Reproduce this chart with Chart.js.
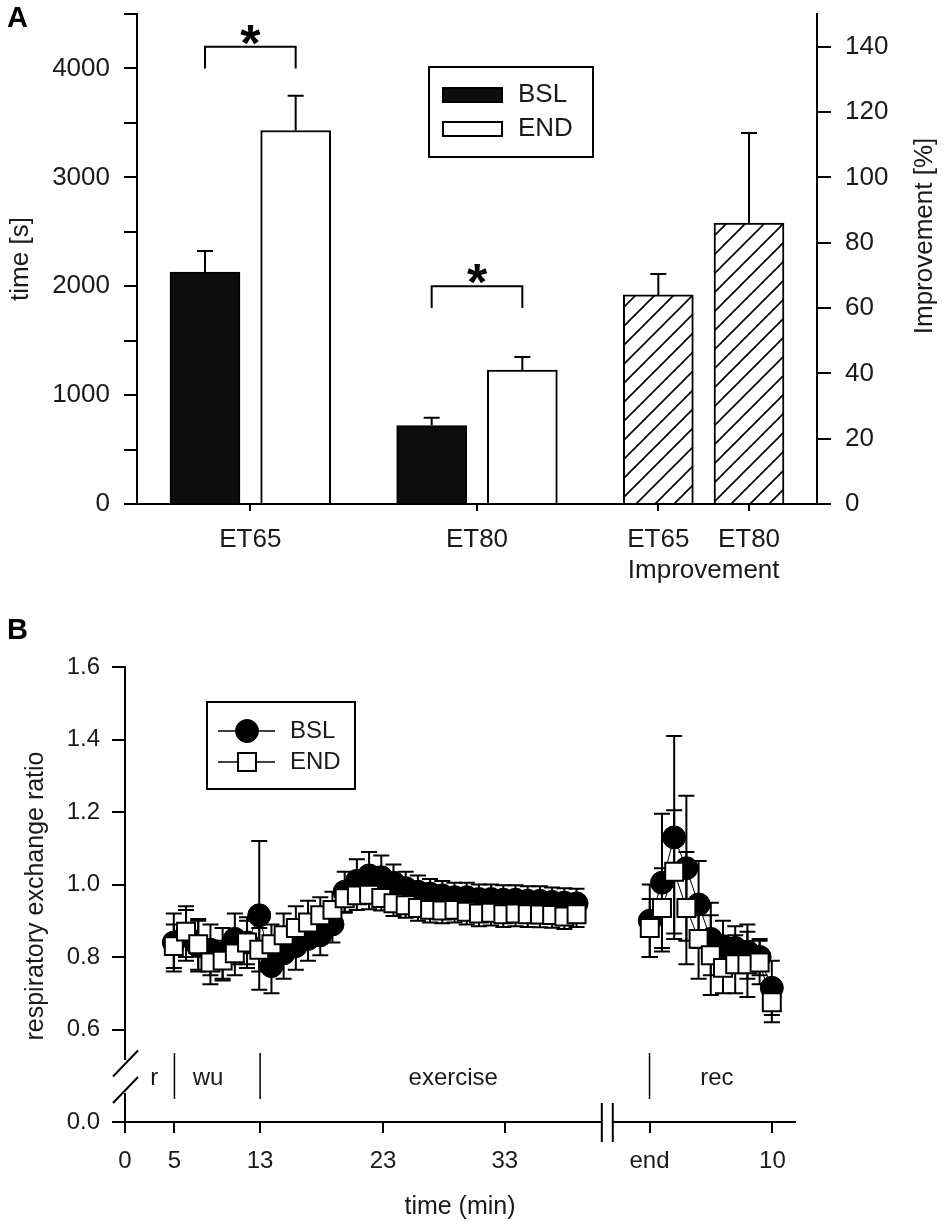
<!DOCTYPE html>
<html>
<head>
<meta charset="utf-8">
<title>Endurance time and respiratory exchange ratio</title>
<script src="https://cdn.jsdelivr.net/npm/chart.js@4.4.1/dist/chart.umd.min.js"></script>
<style>
  html, body { margin: 0; padding: 0; background: #fff; }
  #wrap { position: relative; width: 945px; height: 1227px; overflow: hidden; }
  canvas { position: absolute; left: 0; }
  #chartA { top: 0; }
  #chartB { top: 600px; }
  .panel { position: absolute; left: 7px; font: bold 29px 'Liberation Sans', Arial, sans-serif; line-height: 1; color: #000; }
</style>
</head>
<body>
<div id="wrap">
  <canvas id="chartA" width="945" height="600"></canvas>
  <canvas id="chartB" width="945" height="627"></canvas>
  <div class="panel" style="top:3px">A</div>
  <div class="panel" style="top:615px">B</div>
</div>
<script>
// ---- Panel A: endurance time and improvement ----
const slotBSL = [0, 5];
const slotEND = [2, 7];
const slotImp = [10, 12];
const bslTime = [2130, 720];
const bslTimeErr = [193, 73];
const endTime = [3430, 1230];
const endTimeErr = [320, 120];
const improvement = [64, 86];
const improvementErr = [6.4, 27.6];
const tickSlotsA = [1, 6, 10, 11, 12];
const tickLabelsA = ["ET65", "ET80", "ET65", ["", "Improvement"], "ET80"];
const timeTicks = [0, 500, 1000, 1500, 2000, 2500, 3000, 3500, 4000, 4500];
const improvementTicks = [0, 10, 20, 30, 40, 50, 60, 70, 80, 90, 100, 110, 120, 130, 140, 150];

// ---- Panel B: respiratory exchange ratio ----
const exSlots = [4, 5, 6, 7, 8, 9, 10, 11, 12, 13, 14, 15, 16, 17, 18, 19, 20,
  21, 22, 23, 24, 25, 26, 27, 28, 29, 30, 31, 32, 33, 34, 35, 36, 37];
const recSlots = [43, 44, 45, 46, 47, 48, 49, 50, 51, 52, 53];
const bslEx = [0.84, 0.86, 0.83, 0.82, 0.81, 0.85, 0.84, 0.915, 0.775, 0.81, 0.83, 0.85,
  0.86, 0.89, 0.98, 1.01, 1.025, 1.02, 1.005, 0.99, 0.98, 0.975, 0.97, 0.965, 0.965,
  0.96, 0.96, 0.958, 0.958, 0.955, 0.955, 0.952, 0.95, 0.948];
const bslExErr = [0.08, 0.07, 0.07, 0.07, 0.07, 0.07, 0.07, 0.205, 0.075, 0.07, 0.065, 0.06,
  0.055, 0.05, 0.055, 0.06, 0.065, 0.06, 0.05, 0.045, 0.045, 0.04, 0.04, 0.04, 0.04,
  0.04, 0.04, 0.04, 0.04, 0.04, 0.04, 0.04, 0.04, 0.04];
const endEx = [0.83, 0.87, 0.835, 0.785, 0.79, 0.81, 0.84, 0.82, 0.835, 0.86, 0.88, 0.895,
  0.915, 0.93, 0.962, 0.97, 0.972, 0.963, 0.948, 0.943, 0.935, 0.93, 0.928, 0.93, 0.925,
  0.92, 0.922, 0.918, 0.92, 0.918, 0.917, 0.916, 0.912, 0.918];
const endExErr = [0.06, 0.07, 0.07, 0.06, 0.055, 0.06, 0.06, 0.06, 0.055, 0.06, 0.06, 0.06,
  0.05, 0.05, 0.04, 0.04, 0.04, 0.035, 0.035, 0.035, 0.035, 0.035, 0.035, 0.035, 0.035,
  0.035, 0.035, 0.035, 0.035, 0.035, 0.035, 0.035, 0.035, 0.035];
const bslRec = [0.90, 1.005, 1.13, 1.045, 0.945, 0.85, 0.83, 0.825, 0.815, 0.80, 0.715];
const bslRecErr = [0.10, 0.19, 0.28, 0.20, 0.12, 0.10, 0.07, 0.06, 0.075, 0.05, 0.075];
const endRec = [0.88, 0.935, 1.035, 0.935, 0.85, 0.805, 0.77, 0.78, 0.78, 0.785, 0.675];
const endRecErr = [0.08, 0.11, 0.17, 0.155, 0.11, 0.11, 0.07, 0.08, 0.09, 0.06, 0.055];
const breakSlot = 40;
const rerTicks = [0.6, 0.8, 1.0, 1.2, 1.4, 1.6];
const timeTickPos = [0, 4.05, 11.07, 21.15, 31.12, 42.98, 53.05];
const timeTickLabels = ["0", "5", "13", "23", "33", "end", "10"];
const phaseLabels = ["r", "wu", "exercise", "rec"];
const phaseLabelPos = [2.4, 6.8, 26.9, 48.5];
const phaseMarks = [4.05, 11.07, 42.98];
const xBreak = [39.07, 39.97];

const FONT = "'Liberation Sans', Arial, Helvetica, sans-serif";
const TEXT = "#1a1a1a";
Chart.defaults.font.family = FONT;
Chart.defaults.color = TEXT;

function hatch() {
  const s = 19;
  const c = document.createElement("canvas");
  c.width = s; c.height = s;
  const g = c.getContext("2d");
  g.fillStyle = "#fff";
  g.fillRect(0, 0, s, s);
  g.strokeStyle = "#000";
  g.lineWidth = 1.6;
  g.beginPath();
  g.moveTo(-1, s + 1); g.lineTo(s + 1, -1);
  g.moveTo(-s / 2 - 1, s / 2 + 1); g.lineTo(s / 2 + 1, -s / 2 - 1);
  g.moveTo(s / 2 - 1, s * 1.5 + 1); g.lineTo(s * 1.5 + 1, s / 2 - 1);
  g.stroke();
  return g.createPattern(c, "repeat");
}

function points(slots, values) {
  return slots.map((x, i) => ({ x: x, y: values[i] }));
}

// error bars, drawn just before each dataset so markers sit on top
const errorBars = {
  id: "errorBars",
  beforeDatasetDraw(chart, args) {
    const ds = chart.data.datasets[args.index];
    if (!ds.errors) return;
    const meta = args.meta;
    const yScale = chart.scales[meta.yAxisID];
    const ctx = chart.ctx;
    const cap = ds.errorCap / 2;
    ctx.save();
    ctx.strokeStyle = "#000";
    ctx.lineWidth = 2;
    meta.data.forEach((el, i) => {
      const raw = ds.data[i];
      const err = ds.errors[i];
      if (err == null || raw == null || raw.y == null) return;
      const x = el.x;
      const yHi = yScale.getPixelForValue(raw.y + err);
      const yLo = yScale.getPixelForValue(ds.errorDir === "up" ? raw.y : raw.y - err);
      ctx.beginPath();
      ctx.moveTo(x, yLo); ctx.lineTo(x, yHi);
      ctx.moveTo(x - cap, yHi); ctx.lineTo(x + cap, yHi);
      if (ds.errorDir !== "up") { ctx.moveTo(x - cap, yLo); ctx.lineTo(x + cap, yLo); }
      ctx.stroke();
    });
    ctx.restore();
  }
};

const sideTitles = {
  id: "sideTitles",
  afterDraw(chart, args, opts) {
    const ctx = chart.ctx;
    (opts.items || []).forEach(t => {
      ctx.save();
      ctx.translate(t.x, t.y);
      ctx.rotate(-Math.PI / 2);
      ctx.font = t.size + "px " + FONT;
      ctx.fillStyle = TEXT;
      ctx.textAlign = "center";
      ctx.textBaseline = "middle";
      ctx.fillText(t.text, 0, 0);
      ctx.restore();
    });
  }
};

// significance brackets (annotation, not data)
const brackets = [
  { from: 0, to: 2, low: 4000, high: 4200 },
  { from: 5, to: 7, low: 1800, high: 2000 }
];
const sigMarks = {
  id: "sigMarks",
  afterDatasetsDraw(chart) {
    const { ctx, scales } = chart;
    ctx.save();
    ctx.strokeStyle = "#000";
    ctx.lineWidth = 2;
    brackets.forEach(b => {
      const x1 = scales.x.getPixelForValue(b.from);
      const x2 = scales.x.getPixelForValue(b.to);
      const yl = scales.y.getPixelForValue(b.low);
      const yh = scales.y.getPixelForValue(b.high);
      ctx.beginPath();
      ctx.moveTo(x1, yl); ctx.lineTo(x1, yh); ctx.lineTo(x2, yh); ctx.lineTo(x2, yl);
      ctx.stroke();
      ctx.fillStyle = "#000";
      ctx.font = "bold 52px " + FONT;
      ctx.textAlign = "center";
      ctx.textBaseline = "alphabetic";
      ctx.fillText("*", (x1 + x2) / 2, yh + 14);
    });
    ctx.restore();
  }
};

const legendA = {
  id: "legendA",
  afterDraw(chart) {
    const ctx = chart.ctx;
    ctx.save();
    ctx.lineWidth = 2;
    ctx.strokeStyle = "#000";
    ctx.strokeRect(429, 67, 164, 90);
    chart.data.datasets.filter(d => d.inLegend).forEach((ds, i) => {
      const cy = 95 + i * 34;
      ctx.fillStyle = ds.backgroundColor;
      ctx.fillRect(443, cy - 7, 59, 14);
      ctx.strokeRect(443, cy - 7, 59, 14);
      ctx.fillStyle = TEXT;
      ctx.font = "26px " + FONT;
      ctx.textAlign = "left";
      ctx.textBaseline = "middle";
      ctx.fillText(ds.label, 518, cy);
    });
    ctx.restore();
  }
};

function fixedWidth(w) {
  return s => { s.width = w; s.paddingTop = 0; s.paddingBottom = 0; };
}

new Chart(document.getElementById("chartA"), {
  type: "bar",
  data: {
    datasets: [
      {
        label: "BSL", data: points(slotBSL, bslTime), errors: bslTimeErr,
        backgroundColor: "#0d0d0d", borderColor: "#000", borderWidth: 2,
        barThickness: 70, grouped: false, errorDir: "up", errorCap: 16, inLegend: true, yAxisID: "y"
      },
      {
        label: "END", data: points(slotEND, endTime), errors: endTimeErr,
        backgroundColor: "#ffffff", borderColor: "#000", borderWidth: 2,
        barThickness: 70, grouped: false, errorDir: "up", errorCap: 16, inLegend: true, yAxisID: "y"
      },
      {
        label: "Improvement", data: points(slotImp, improvement), errors: improvementErr,
        backgroundColor: hatch(), borderColor: "#000", borderWidth: 2,
        barThickness: 70, grouped: false, errorDir: "up", errorCap: 16, yAxisID: "y2"
      }
    ]
  },
  options: {
    responsive: false,
    animation: false,
    events: [],
    layout: { padding: { top: 14, left: 0, right: 0, bottom: 0 } },
    scales: {
      x: {
        type: "linear", min: -1.5, max: 13.5, offset: false,
        afterBuildTicks: s => { s.ticks = tickSlotsA.map(v => ({ value: v })); },
        afterFit: s => { s.height = 96; s.paddingLeft = 0; s.paddingRight = 0; },
        grid: {
          drawOnChartArea: false, tickLength: 7, lineWidth: 2, offset: false,
          color: c => (c.tick && c.tick.value === 11 ? "rgba(0,0,0,0)" : "#000")
        },
        border: { color: "#000", width: 2 },
        ticks: {
          autoSkip: false, maxRotation: 0, minRotation: 0, padding: 13,
          font: { size: 26 }, color: TEXT,
          callback: (v, i) => tickLabelsA[i]
        }
      },
      y: {
        position: "left", min: 0, max: 4500,
        afterBuildTicks: s => { s.ticks = timeTicks.map(v => ({ value: v })); },
        afterFit: fixedWidth(137),
        grid: { drawOnChartArea: false, tickLength: 13, lineWidth: 2, color: "#000" },
        border: { color: "#000", width: 2 },
        ticks: { padding: 14, font: { size: 26 }, color: TEXT, callback: v => (v % 1000 === 0 ? v : "") }
      },
      y2: {
        position: "right", min: 0, max: 150,
        afterBuildTicks: s => { s.ticks = improvementTicks.map(v => ({ value: v })); },
        afterFit: fixedWidth(128),
        grid: { drawOnChartArea: false, tickLength: 14, lineWidth: 2, color: "#000" },
        border: { color: "#000", width: 2 },
        ticks: { padding: 14, font: { size: 26 }, color: TEXT, callback: v => (v % 20 === 0 ? v : "") }
      }
    },
    plugins: {
      legend: { display: false },
      tooltip: { enabled: false },
      sideTitles: {
        items: [
          { text: "time [s]", x: 21, y: 259, size: 26 },
          { text: "Improvement [%]", x: 925, y: 236, size: 26 }
        ]
      }
    }
  },
  plugins: [errorBars, sigMarks, legendA, sideTitles]
});

// ---- Panel B ----
const legendB = {
  id: "legendB",
  afterDraw(chart) {
    const ctx = chart.ctx;
    ctx.save();
    ctx.lineWidth = 2;
    ctx.strokeStyle = "#000";
    ctx.strokeRect(207, 102, 148, 87);
    chart.data.datasets.forEach((ds, i) => {
      const cy = 131 + i * 31;
      ctx.lineWidth = 1.5;
      ctx.beginPath();
      ctx.moveTo(218, cy); ctx.lineTo(275, cy);
      ctx.stroke();
      ctx.lineWidth = ds.pointBorderWidth;
      ctx.fillStyle = ds.pointBackgroundColor;
      ctx.beginPath();
      if (ds.pointStyle === "circle") {
        ctx.arc(247, cy, ds.pointRadius, 0, Math.PI * 2);
      } else {
        const h = Math.SQRT1_2 * ds.pointRadius;
        ctx.rect(247 - h, cy - h, 2 * h, 2 * h);
      }
      ctx.fill();
      ctx.stroke();
      ctx.fillStyle = TEXT;
      ctx.font = "24px " + FONT;
      ctx.textAlign = "left";
      ctx.textBaseline = "middle";
      ctx.fillText(ds.label, 290, cy);
    });
    ctx.restore();
  }
};

const phasesB = {
  id: "phasesB",
  afterDraw(chart) {
    const { ctx, scales, chartArea } = chart;
    const b = chartArea.bottom;
    ctx.save();
    ctx.strokeStyle = "#000";
    ctx.lineWidth = 1.5;
    phaseMarks.forEach(p => {
      const x = scales.x.getPixelForValue(p);
      ctx.beginPath();
      ctx.moveTo(x, b - 69); ctx.lineTo(x, b - 23);
      ctx.stroke();
    });
    ctx.fillStyle = TEXT;
    ctx.font = "24px " + FONT;
    ctx.textAlign = "center";
    ctx.textBaseline = "middle";
    phaseLabels.forEach((t, i) => ctx.fillText(t, scales.x.getPixelForValue(phaseLabelPos[i]), b - 44));
    // axis breaks
    ctx.lineWidth = 2;
    const l = chartArea.left;
    [scales.yTop.bottom + 5, scales.yBot.top - 4].forEach(yc => {
      ctx.beginPath();
      ctx.moveTo(l - 12, yc + 13); ctx.lineTo(l + 13, yc - 13);
      ctx.stroke();
    });
    const x1 = scales.x.getPixelForValue(xBreak[0]);
    const x2 = scales.x.getPixelForValue(xBreak[1]);
    ctx.fillStyle = "#fff";
    ctx.fillRect(x1, b - 3, x2 - x1, 6);
    ctx.beginPath();
    ctx.moveTo(x1, b - 19); ctx.lineTo(x1, b + 20);
    ctx.moveTo(x2, b - 19); ctx.lineTo(x2, b + 20);
    ctx.stroke();
    ctx.restore();
  }
};

const bslPoints = points(exSlots, bslEx).concat([{ x: breakSlot, y: null }], points(recSlots, bslRec));
const endPoints = points(exSlots, endEx).concat([{ x: breakSlot, y: null }], points(recSlots, endRec));

const leftAxis = {
  grid: { drawOnChartArea: false, tickLength: 13, lineWidth: 2, color: "#000" },
  border: { color: "#000", width: 2 }
};

new Chart(document.getElementById("chartB"), {
  type: "line",
  data: {
    datasets: [
      {
        label: "BSL", data: bslPoints, errors: bslExErr.concat([null], bslRecErr),
        errorDir: "both", errorCap: 16, yAxisID: "yTop", order: 2,
        borderColor: "#000", borderWidth: 1,
        pointStyle: "circle", pointRadius: 11.5, pointBackgroundColor: "#000",
        pointBorderColor: "#000", pointBorderWidth: 1
      },
      {
        label: "END", data: endPoints, errors: endExErr.concat([null], endRecErr),
        errorDir: "both", errorCap: 16, yAxisID: "yTop", order: 1,
        borderColor: "#000", borderWidth: 1,
        pointStyle: "rect", pointRadius: 12.7, pointBackgroundColor: "#fff",
        pointBorderColor: "#000", pointBorderWidth: 2
      }
    ]
  },
  options: {
    responsive: false,
    animation: false,
    events: [],
    layout: { padding: { top: 67, left: 0, right: 150, bottom: 0 } },
    scales: {
      x: {
        type: "linear", min: 0, max: 54.9,
        afterBuildTicks: s => { s.ticks = timeTickPos.map(v => ({ value: v })); },
        afterFit: s => { s.height = 105; },
        grid: { drawOnChartArea: false, tickLength: 11, lineWidth: 2, color: "#000" },
        border: { color: "#000", width: 2 },
        ticks: {
          autoSkip: false, maxRotation: 0, minRotation: 0, padding: 14,
          font: { size: 24 }, color: TEXT, callback: (v, i) => timeTickLabels[i]
        },
        title: { display: true, text: "time (min)", font: { size: 25 }, color: TEXT, padding: { top: 0, bottom: 5 } }
      },
      yBot: Object.assign({
        type: "linear", position: "left", stack: "rer", stackWeight: 28, weight: 1,
        min: 0, max: 1,
        afterBuildTicks: s => { s.ticks = [{ value: 0 }]; },
        afterFit: s => { s.width = 125; },
        ticks: { padding: 12, font: { size: 24 }, color: TEXT, callback: v => v.toFixed(1) }
      }, leftAxis),
      yGap: {
        type: "linear", position: "left", stack: "rer", stackWeight: 35.5, weight: 2,
        afterFit: s => { s.width = 125; },
        grid: { display: false }, border: { display: false }, ticks: { display: false }
      },
      yTop: Object.assign({
        type: "linear", position: "left", stack: "rer", stackWeight: 391.5, weight: 3,
        min: 0.52, max: 1.6,
        afterBuildTicks: s => { s.ticks = rerTicks.map(v => ({ value: v })); },
        afterFit: s => { s.width = 125; },
        ticks: { padding: 12, font: { size: 24 }, color: TEXT, callback: v => v.toFixed(1) }
      }, leftAxis)
    },
    plugins: {
      legend: { display: false },
      tooltip: { enabled: false },
      sideTitles: { items: [{ text: "respiratory exchange ratio", x: 36, y: 296, size: 25 }] }
    }
  },
  plugins: [errorBars, legendB, phasesB, sideTitles]
});
</script>
</body>
</html>
